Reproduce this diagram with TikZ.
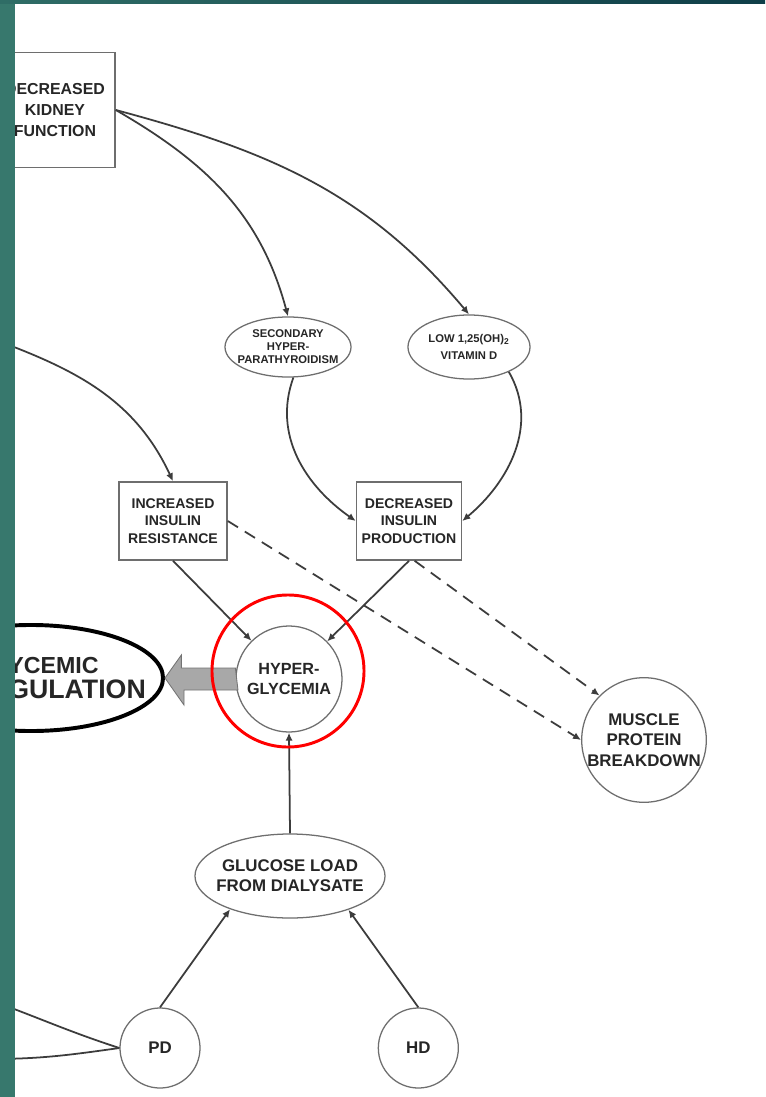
\documentclass[tikz,border=0pt]{standalone}
\usepackage{fontspec}
\setmainfont{Liberation Sans}
\usetikzlibrary{positioning,arrows.meta,shapes.geometric,calc}
\definecolor{slideteal}{HTML}{37786D}
\definecolor{slidemid}{HTML}{2F6D66}
\definecolor{slidedark}{HTML}{0F3E48}
\definecolor{inkgray}{HTML}{3C3C3C}
\definecolor{edgegray}{HTML}{6E6E6E}
\definecolor{blockgray}{HTML}{A8A8A8}

\begin{document}
\begin{tikzpicture}[
    x=0.025cm, y=0.025cm,
    box/.style={rectangle, draw=edgegray, line width=1.1pt, fill=white, inner sep=0pt, align=center, text=black!85, font=\bfseries\fontsize{10}{12.4}\selectfont},
    oval/.style={ellipse, draw=edgegray, line width=0.9pt, fill=white, inner xsep=-0.2cm, inner ysep=0pt, align=center, text=black!85, font=\bfseries\fontsize{8}{9.2}\selectfont},
    disc/.style={circle, draw=edgegray, line width=0.9pt, fill=white, inner sep=0pt, align=center, text=black!85, font=\bfseries\fontsize{11.5}{14}\selectfont},
    arrow/.style={-{Latex[length=2mm, width=1.8mm]}, line width=1.25pt, draw=inkgray},
    darrow/.style={arrow, dash pattern=on 3mm off 2mm},
    plain/.style={line width=1.25pt, draw=inkgray},
    block/.style={fill=blockgray, draw=gray!90!black, line width=0.6pt}
]
\useasboundingbox (0,0) rectangle (765,-1097);
\fill[white] (0,0) rectangle (765,-1097);

% Kidney and what follows from it
\node[box, minimum width=3cm, minimum height=2.875cm, font=\bfseries\fontsize{11.3}{15}\selectfont] (kidney) at (55,-110) {DECREASED\\KIDNEY\\FUNCTION};
\node[oval, minimum width=3.15cm, minimum height=1.5cm] (hpt) at (288,-347) {SECONDARY\\HYPER-\\PARATHYROIDISM};
\node[oval, minimum width=3.05cm, minimum height=1.6cm, font=\bfseries\fontsize{8}{12}\selectfont] (vitd) at (469,-347) {LOW 1,25(OH)\textsubscript{2}\\VITAMIN D};

% Insulin
\node[box, minimum width=2.7cm, minimum height=1.95cm] (resist) at (173,-521) {INCREASED\\INSULIN\\RESISTANCE};
\node[box, minimum width=2.625cm, minimum height=1.95cm] (prod) at (409,-521) {DECREASED\\INSULIN\\PRODUCTION};

% Hyperglycemia and outcomes
\node[disc, minimum size=2.65cm] (hyper) at (289,-679) {HYPER-\\GLYCEMIA};
\node[ellipse, draw=black, line width=2.8pt, fill=white, inner xsep=-0.9cm, inner ysep=0pt, minimum width=6.6cm, minimum height=2.65cm, align=center, text=black!85, font=\bfseries\fontsize{19}{18}\selectfont] (glyc) at (31,-678) {{\fontsize{16.5}{18}\selectfont\hspace*{10.6pt}GLYCEMIC}\\DYSREGULATION};
\node[disc, minimum size=3.1cm, font=\bfseries\fontsize{12}{14.4}\selectfont] (muscle) at (644,-740) {MUSCLE\\PROTEIN\\BREAKDOWN};

% Dialysis
\node[oval, minimum width=4.75cm, minimum height=2.1cm, inner xsep=-0.3cm, font=\bfseries\fontsize{12}{14}\selectfont] (glucose) at (290,-876) {GLUCOSE LOAD\\FROM DIALYSATE};
\node[disc, minimum size=2cm, font=\bfseries\fontsize{12}{14}\selectfont] (pd) at (160,-1048) {PD};
\node[disc, minimum size=2cm, font=\bfseries\fontsize{12}{14}\selectfont, right=4.425cm of pd] (hd) {HD};

% Ends that leave the picture
\coordinate (fromleft) at (-10,-338);
\coordinate (toleftA) at (-10,-1000);
\coordinate (toleftB) at (-10,-1059);

% Arrows from the kidney
\draw[arrow] (kidney.east) to[out=-30, in=105] (hpt.north);
\draw[arrow] (kidney.east) to[out=-15, in=130] (vitd.north);
\draw[arrow] (fromleft) to[out=-20, in=115] (resist.north);

% Arrows into insulin production
\draw[arrow] (hpt.-80) to[out=-110, in=145] (prod.west);
\draw[arrow] (vitd.-32) to[out=-60, in=40] (prod.east);

% Arrows into hyperglycemia
\draw[arrow] (resist.south) -- (hyper);
\draw[arrow] (prod.south) -- (hyper);
\draw[arrow] (glucose.north) -- (hyper.south);
\draw[darrow] (resist.east) -- (muscle.west);
\draw[darrow] ([xshift=4pt]prod.south) -- (muscle.135);

% Dialysis arrows
\draw[arrow] (pd.north) -- (glucose.209);
\draw[arrow] (hd.north) -- (glucose.330);
\draw[plain] (pd.west) to[out=162, in=-20] (toleftA);
\draw[plain] (pd.west) to[out=188, in=0] (toleftB);

% Block arrow to dysregulation
\draw[block] ($(hyper.west)+(0,11)$) -- ++(-54,0) -- ++(0,13) -- (glyc.east) -- ++(19,-27) -- ++(0,15) -- ++(54,0) -- cycle;

% Highlight ring
\node[circle, draw=red, line width=2.1pt, minimum size=3.8cm] (ring) at (288,-671) {};

% Slide edges
\fill[slideteal] (0,0) rectangle (15,-1097);
\shade[left color=slidemid, right color=slidedark] (0,0) rectangle (765,-4);

\end{tikzpicture}
\end{document}
